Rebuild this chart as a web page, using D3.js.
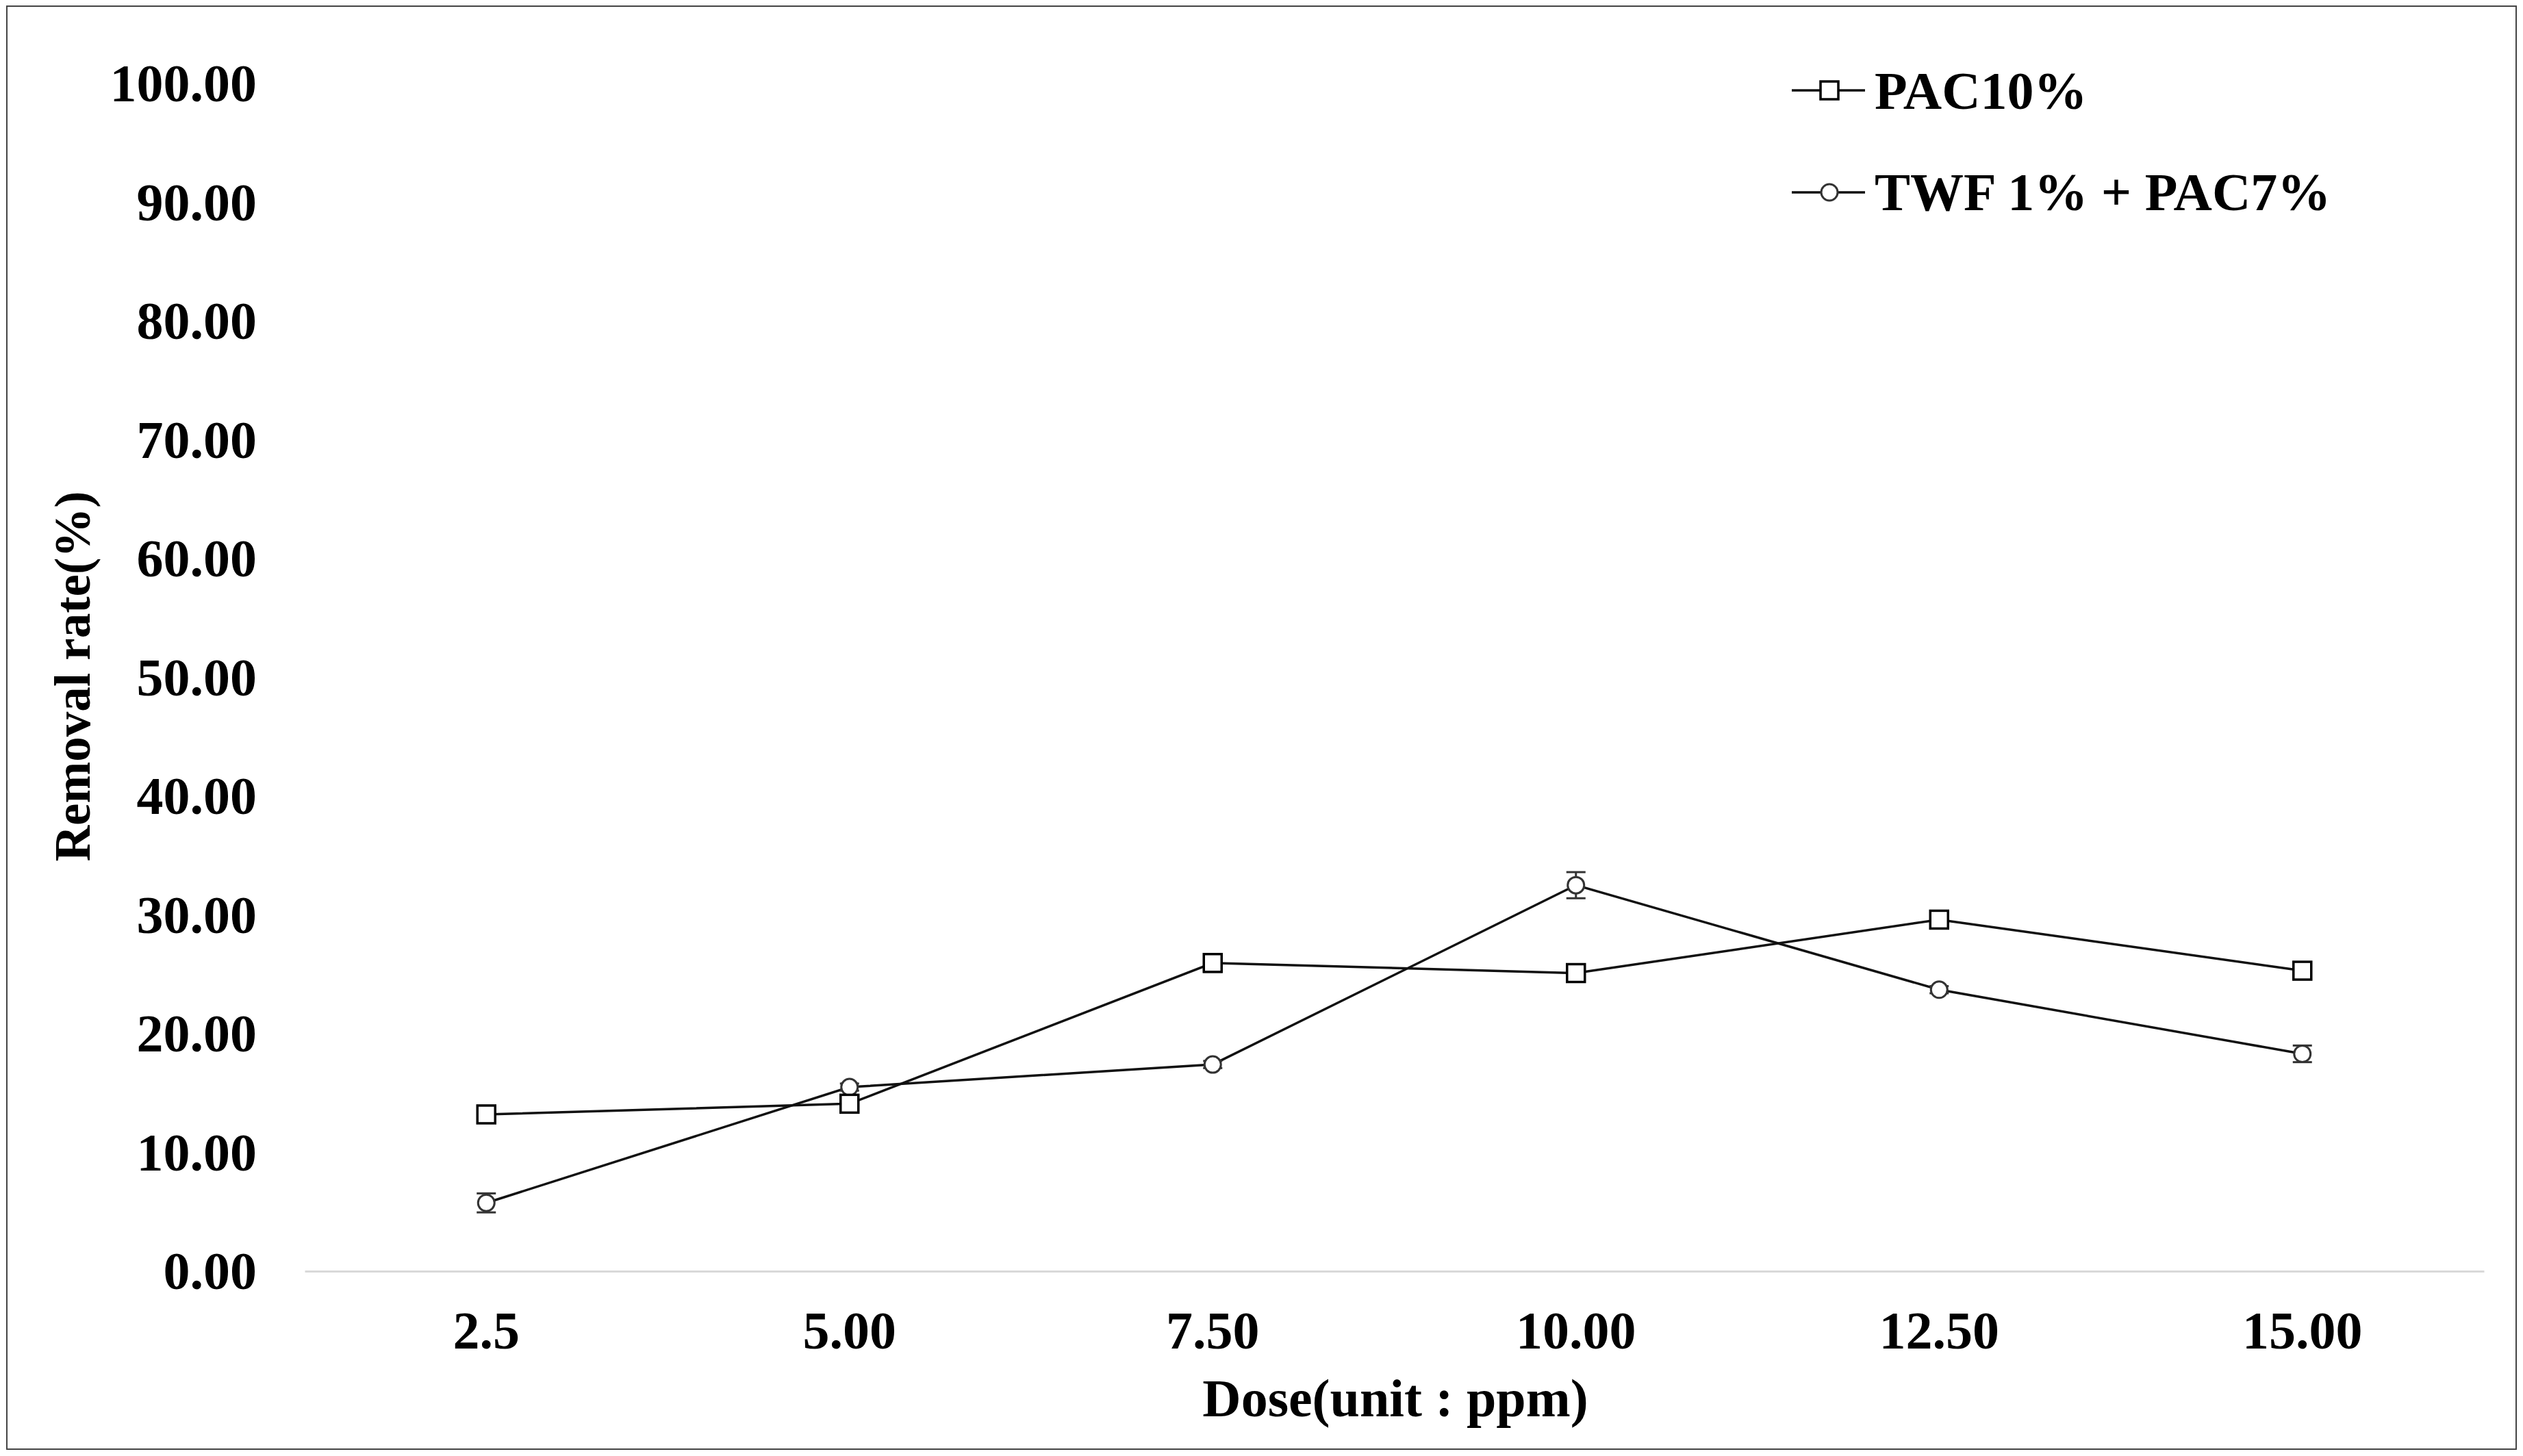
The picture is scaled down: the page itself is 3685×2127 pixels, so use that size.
<!DOCTYPE html>
<html>
<head>
<meta charset="utf-8">
<script src="https://cdn.jsdelivr.net/npm/d3@7"></script>
<style>
  html, body { margin: 0; padding: 0; background: #fff; }
  svg { display: block; }
  text { font-family: "Liberation Serif", "Times New Roman", serif; font-weight: bold; fill: #000; }
</style>
</head>
<body>
<script>
// ---- data ----
const categories = ["2.5", "5.00", "7.50", "10.00", "12.50", "15.00"];
const seriesNames = ["PAC10%", "TWF 1% + PAC7%"];
const pac10 = [13.2, 14.1, 25.95, 25.1, 29.6, 25.3];
const pac10Err = [0.2, 0.2, 0.75, 0.2, 0.2, 0.2];
const twfPac7 = [5.75, 15.5, 17.4, 32.5, 23.7, 18.3];
const twfPac7Err = [0.8, 0.3, 0.3, 1.1, 0.3, 0.7];
const yTicks = [0, 10, 20, 30, 40, 50, 60, 70, 80, 90, 100];
const xTitle = "Dose(unit : ppm)";
const yTitle = "Removal rate(%)";

const W = 3685, H = 2127;
const FS = 78;
const svg = d3.select("body").append("svg").attr("width", W).attr("height", H);

// border
svg.append("rect").attr("x", 10).attr("y", 9).attr("width", 3665).attr("height", 2108)
  .attr("fill", "none").attr("stroke", "#444").attr("stroke-width", 2);

const x = d3.scaleBand().domain(categories).range([445, 3628]).padding(0);
const y = d3.scaleLinear().domain([0, 100]).range([1857, 122]);
const cx = c => x(c) + x.bandwidth() / 2;

// y axis (labels only)
const gy = svg.append("g").attr("transform", "translate(375,0)")
  .call(d3.axisLeft(y).tickValues(yTicks).tickFormat(d3.format(".2f")).tickSize(0).tickPadding(0));
gy.select(".domain").remove();
gy.selectAll("text").attr("font-size", FS).attr("dy", "0.33em")
  .style("font-family", '"Liberation Serif", serif').style("font-weight", "bold");

// x axis
const gx = svg.append("g").attr("transform", "translate(0,1857)")
  .call(d3.axisBottom(x).tickSize(0).tickSizeOuter(0).tickPadding(0));
gx.select(".domain").attr("stroke", "#d9d9d9").attr("stroke-width", 3);
gx.selectAll("text").attr("font-size", FS).attr("y", 113).attr("dy", 0)
  .style("font-family", '"Liberation Serif", serif').style("font-weight", "bold");

// titles
svg.append("text").attr("x", 2038).attr("y", 2069).attr("text-anchor", "middle")
  .attr("font-size", FS).text(xTitle);
svg.append("text").attr("transform", "translate(131,988) rotate(-90)").attr("text-anchor", "middle")
  .attr("font-size", 73).text(yTitle);

const line = d3.line().x((d, i) => cx(categories[i])).y(d => y(d));

function drawSeries(vals, errs, shape) {
  const g = svg.append("g");
  g.append("path").datum(vals).attr("d", line).attr("fill", "none")
    .attr("stroke", "#111").attr("stroke-width", 3.5);
  // error bars
  const eb = g.selectAll(".eb").data(vals).enter().append("g")
    .attr("stroke", shape === "circle" ? "#333" : "#111").attr("stroke-width", 3);
  eb.append("line").attr("x1", (d, i) => cx(categories[i])).attr("x2", (d, i) => cx(categories[i]))
    .attr("y1", (d, i) => y(d + errs[i])).attr("y2", (d, i) => y(d - errs[i]));
  eb.append("line").attr("x1", (d, i) => cx(categories[i]) - 14).attr("x2", (d, i) => cx(categories[i]) + 14)
    .attr("y1", (d, i) => y(d + errs[i])).attr("y2", (d, i) => y(d + errs[i]));
  eb.append("line").attr("x1", (d, i) => cx(categories[i]) - 14).attr("x2", (d, i) => cx(categories[i]) + 14)
    .attr("y1", (d, i) => y(d - errs[i])).attr("y2", (d, i) => y(d - errs[i]));
  if (shape === "square") {
    g.selectAll(".m").data(vals).enter().append("rect")
      .attr("x", (d, i) => cx(categories[i]) - 13).attr("y", d => y(d) - 13)
      .attr("width", 26).attr("height", 26)
      .attr("fill", "#fff").attr("stroke", "#000").attr("stroke-width", 3.5);
  } else {
    g.selectAll(".m").data(vals).enter().append("circle")
      .attr("cx", (d, i) => cx(categories[i])).attr("cy", d => y(d)).attr("r", 12)
      .attr("fill", "#fff").attr("stroke", "#333").attr("stroke-width", 3);
  }
}
drawSeries(twfPac7, twfPac7Err, "circle");
drawSeries(pac10, pac10Err, "square");

// legend
const legend = [
  { name: seriesNames[0], shape: "square", ly: 132, ty: 159 },
  { name: seriesNames[1], shape: "circle", ly: 281, ty: 307 }
];
legend.forEach(l => {
  svg.append("line").attr("x1", 2617).attr("x2", 2724).attr("y1", l.ly).attr("y2", l.ly)
    .attr("stroke", "#111").attr("stroke-width", 3.5);
  if (l.shape === "square") {
    svg.append("rect").attr("x", 2672 - 13).attr("y", l.ly - 13).attr("width", 26).attr("height", 26)
      .attr("fill", "#fff").attr("stroke", "#000").attr("stroke-width", 3.5);
  } else {
    svg.append("circle").attr("cx", 2672).attr("cy", l.ly).attr("r", 12)
      .attr("fill", "#fff").attr("stroke", "#333").attr("stroke-width", 3);
  }
  svg.append("text").attr("x", 2738).attr("y", l.ty).attr("font-size", FS).text(l.name);
});
</script>
</body>
</html>
